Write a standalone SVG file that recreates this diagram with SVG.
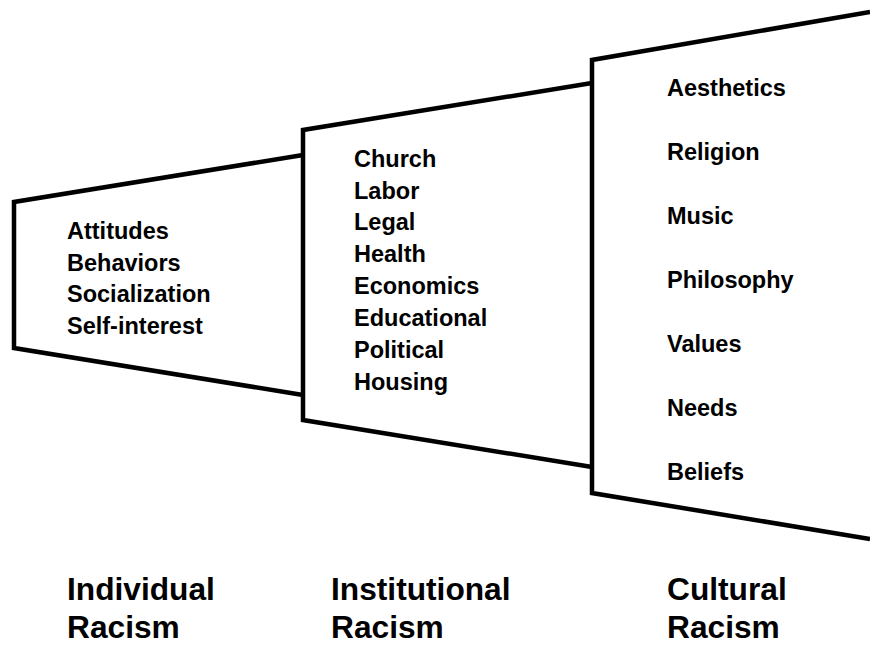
<svg xmlns="http://www.w3.org/2000/svg" width="870" height="646" viewBox="0 0 870 646">
<style>
.shape{fill:none;stroke:#000;stroke-width:4.5;stroke-linejoin:miter}
.item{font-family:"Liberation Sans",Arial,sans-serif;font-weight:bold;font-size:23.5px;fill:#000}
.title{font-family:"Liberation Sans",Arial,sans-serif;font-weight:bold;font-size:31.7px;fill:#000}
</style>
<rect width="870" height="646" fill="#fff"/>
<g id="connectors">
<polyline class="shape" points="303,155 14,202 14,348 303,395"/>
<polyline class="shape" points="592,83 303,130 303,420 592,467"/>
<polyline class="shape" points="870,12 592,60 592,493 870,539"/>
</g>
<g id="individual">
<text class="item" x="67" y="239">Attitudes</text>
<text class="item" x="67" y="270.5">Behaviors</text>
<text class="item" x="67" y="302">Socialization</text>
<text class="item" x="67" y="333.5">Self-interest</text>
</g>
<g id="institutional">
<text class="item" x="354" y="167">Church</text>
<text class="item" x="354" y="198.5">Labor</text>
<text class="item" x="354" y="230">Legal</text>
<text class="item" x="354" y="262">Health</text>
<text class="item" x="354" y="294">Economics</text>
<text class="item" x="354" y="326">Educational</text>
<text class="item" x="354" y="358">Political</text>
<text class="item" x="354" y="390">Housing</text>
</g>
<g id="cultural">
<text class="item" x="667" y="96">Aesthetics</text>
<text class="item" x="667" y="160">Religion</text>
<text class="item" x="667" y="224">Music</text>
<text class="item" x="667" y="288">Philosophy</text>
<text class="item" x="667" y="352">Values</text>
<text class="item" x="667" y="416">Needs</text>
<text class="item" x="667" y="480">Beliefs</text>
</g>
<g id="labels">
<text class="title" x="67" y="600">Individual</text>
<text class="title" x="67" y="638">Racism</text>
<text class="title" x="331" y="600">Institutional</text>
<text class="title" x="331" y="638">Racism</text>
<text class="title" x="667" y="600">Cultural</text>
<text class="title" x="667" y="638">Racism</text>
</g>
</svg>
